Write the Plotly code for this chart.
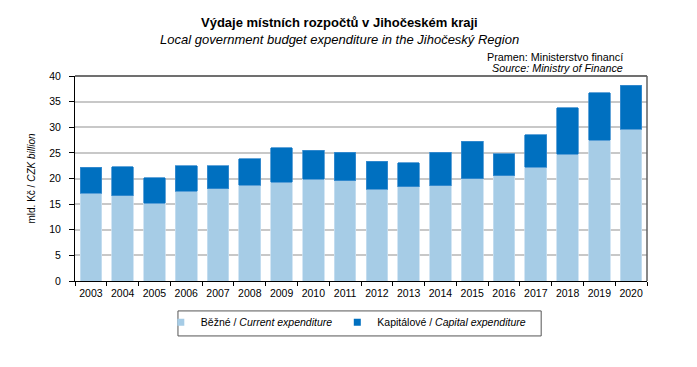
import plotly.graph_objects as go

years = [str(y) for y in range(2003, 2021)]
current = [17.1, 16.6, 15.2, 17.5, 18.0, 18.7, 19.3, 19.9, 19.6, 17.9, 18.4, 18.6, 20.0, 20.5, 22.2, 24.7, 27.5, 29.6]
total = [22.2, 22.3, 20.1, 22.5, 22.5, 23.9, 26.0, 25.5, 25.1, 23.4, 23.1, 25.1, 27.3, 24.8, 28.5, 33.8, 36.7, 38.2]
capital = [round(t - c, 2) for t, c in zip(total, current)]

C_CUR = "#a6cce6"
C_CAP = "#0070c0"
FONT = "Liberation Sans, Arial, sans-serif"

fig = go.Figure()
fig.add_trace(go.Bar(x=years, y=current, marker=dict(color=C_CUR, line=dict(color="#c9e0f1", width=0.8)), showlegend=False))
fig.add_trace(go.Bar(x=years, y=capital, marker=dict(color=C_CAP, line=dict(color="#3d8fcf", width=0.8)), showlegend=False))
# legend entries
fig.add_trace(go.Scatter(x=[None], y=[None], mode="markers", marker=dict(symbol="square", size=7, color=C_CUR),
                         name="Běžné / <i>Current expenditure</i>"))
fig.add_trace(go.Scatter(x=[None], y=[None], mode="markers", marker=dict(symbol="square", size=7, color=C_CAP),
                         name="Kapitálové / <i>Capital expenditure</i>"))

fig.update_layout(
    width=697, height=367,
    barmode="stack", bargap=0.32,
    paper_bgcolor="white", plot_bgcolor="white",
    margin=dict(l=67, r=58, t=68, b=94),
    font=dict(family=FONT, size=10, color="black"),
    showlegend=True,
    legend=dict(orientation="h", x=0.15, xanchor="left", y=-0.13, yanchor="top",
                bgcolor="rgba(0,0,0,0)", borderwidth=0, font=dict(size=10.5), traceorder="normal",
                itemwidth=30, tracegroupgap=0),
    xaxis=dict(type="category", showline=True, linecolor="black", linewidth=1, mirror=False,
               ticks="outside", tickson="boundaries", ticklen=4, tickcolor="black",
               tickfont=dict(size=10.5), tickangle=0, showgrid=False, ticklabelstandoff=2),
    yaxis=dict(range=[0, 40], dtick=5, showline=True, linecolor="black", linewidth=1,
               ticks="outside", ticklen=5, tickcolor="black", tickfont=dict(size=10.5),
               ticklabelstandoff=6,
               gridcolor="#c8c8c8", gridwidth=1.5, zeroline=False,
               title=dict(text="mld. Kč / <i>CZK billion</i>", font=dict(size=10), standoff=11)),
    shapes=[
        dict(type="line", xref="paper", yref="paper", x0=0, x1=1, y0=1, y1=1, line=dict(color="#404040", width=1.5)),
        dict(type="line", xref="paper", yref="paper", x0=1, x1=1, y0=0, y1=1, line=dict(color="#606060", width=1.5)),
        dict(type="rect", xref="paper", yref="paper", x0=0.180, x1=0.815, y0=-0.268, y1=-0.146,
             line=dict(color="#555555", width=1)),
    ],
    annotations=[
        dict(text="<b>Výdaje místních rozpočtů v Jihočeském kraji</b>", xref="paper", yref="paper",
             x=0.463, y=1.0, xanchor="center", yanchor="bottom", yshift=44, showarrow=False, font=dict(size=13)),
        dict(text="<i>Local government budget expenditure in the Jihočeský Region</i>", xref="paper", yref="paper",
             x=0.463, y=1.0, xanchor="center", yanchor="bottom", yshift=27, showarrow=False, font=dict(size=13)),
        dict(text="Pramen: Ministerstvo financí", xref="paper", yref="paper",
             x=0.962, y=1.0, xanchor="right", yanchor="bottom", yshift=11, showarrow=False, font=dict(size=10.8)),
        dict(text="<i>Source: Ministry of Finance</i>", xref="paper", yref="paper",
             x=0.962, y=1.0, xanchor="right", yanchor="bottom", yshift=0, showarrow=False, font=dict(size=10.8)),
    ],
)

fig.write_html("out.html")
